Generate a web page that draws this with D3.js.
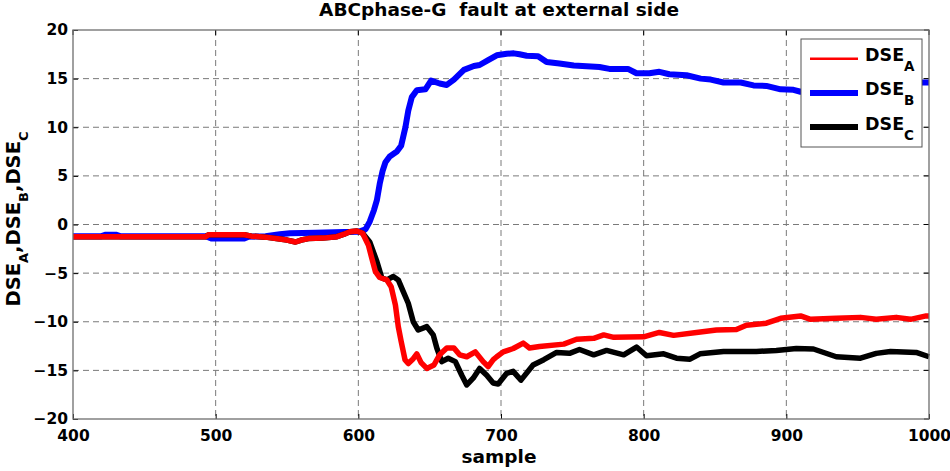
<!DOCTYPE html>
<html>
<head>
<meta charset="utf-8">
<script src="https://cdn.jsdelivr.net/npm/d3@7"></script>
<style>
    body { margin: 0; background: #fff; }
    text { font-family: "DejaVu Sans", Arial, sans-serif; font-weight: bold; }
</style>
</head>
<body>
<div id="chart"></div>
<script>
// values
var xTicks = [400, 500, 600, 700, 800, 900, 1000];
var yTicks = [-20, -15, -10, -5, 0, 5, 10, 15, 20];

var sampleA = [400, 493, 495, 520, 525, 535, 545, 550, 556, 560, 565, 575, 585, 590, 594, 599, 603, 607, 609.5, 612, 615, 620, 623, 626, 628, 630, 632.7, 635, 638.5, 641, 644, 648, 653, 657, 662, 667, 671, 676, 682, 687.5, 691, 694.6, 697, 701.6, 708.6, 715.6, 720, 727, 744, 753, 765, 772, 779, 800, 811, 821, 837, 851, 865, 872, 886, 896, 910, 917, 935, 952, 963, 977, 987, 998, 1000];
var dseA = [-1.25, -1.25, -1.05, -1.05, -1.2, -1.3, -1.5, -1.6, -1.8, -1.6, -1.45, -1.4, -1.25, -1.0, -0.75, -0.67, -0.9, -2.1, -3.5, -4.85, -5.45, -5.7, -6.4, -8.3, -10.5, -12.0, -13.9, -14.3, -13.8, -13.3, -14.2, -14.8, -14.45, -13.4, -12.7, -12.7, -13.4, -13.6, -13.1, -14.1, -14.6, -13.9, -13.6, -13.1, -12.75, -12.2, -12.7, -12.55, -12.3, -11.8, -11.7, -11.35, -11.6, -11.55, -11.1, -11.4, -11.1, -10.85, -10.8, -10.35, -10.15, -9.65, -9.4, -9.75, -9.65, -9.55, -9.75, -9.55, -9.75, -9.4, -9.4];

var sampleB = [400, 420, 423, 430, 433, 493, 497, 520, 523, 535, 545, 552, 570, 590, 600, 605, 608, 611, 613, 615, 617, 619, 622, 627, 630, 633, 635, 637.5, 641, 647, 651, 657, 662, 667, 674, 681, 685, 691, 697, 704, 709, 713, 718, 726, 732, 741, 751, 769, 776, 789, 795, 804, 811, 818, 830, 840, 847, 856, 868, 877, 886, 896, 905, 910, 930, 955, 975, 995, 1000];
var dseB = [-1.2, -1.2, -1.05, -1.05, -1.2, -1.2, -1.45, -1.45, -1.25, -1.2, -1.0, -0.9, -0.85, -0.78, -0.75, -0.5, 0.3, 1.5, 2.5, 4.2, 5.5, 6.4, 7.0, 7.5, 8.1, 10.0, 11.7, 13.1, 13.8, 13.9, 14.8, 14.5, 14.35, 14.9, 15.9, 16.3, 16.4, 16.9, 17.4, 17.55, 17.6, 17.5, 17.35, 17.3, 16.7, 16.55, 16.35, 16.2, 16.0, 16.0, 15.55, 15.55, 15.7, 15.45, 15.35, 15.0, 14.9, 14.6, 14.6, 14.3, 14.25, 13.9, 13.85, 13.65, 13.7, 14.0, 14.3, 14.6, 14.6];

var sampleC = [400, 493, 495, 520, 525, 535, 545, 550, 556, 560, 565, 575, 585, 590, 594, 599, 603, 608, 613, 616.5, 620, 624.5, 628, 631.5, 635, 638.5, 642, 648, 652.5, 655, 658.5, 663, 668, 672.5, 676, 680.5, 685, 690, 694.5, 698, 704, 708.5, 714, 722.5, 730, 739, 748, 755, 765, 774, 786, 795, 802, 814, 823, 832.5, 839.5, 856, 879, 893, 907, 919, 935, 952, 963, 973, 991, 1000];
var dseC = [-1.25, -1.25, -1.05, -1.05, -1.2, -1.3, -1.5, -1.6, -1.8, -1.6, -1.45, -1.4, -1.25, -1.0, -0.75, -0.67, -0.9, -1.8, -3.8, -5.5, -5.7, -5.35, -5.7, -6.9, -8.1, -10.0, -10.85, -10.5, -11.35, -12.7, -14.1, -13.75, -14.1, -15.5, -16.5, -15.8, -14.8, -15.5, -16.3, -16.4, -15.3, -15.1, -16.0, -14.45, -13.9, -13.15, -13.25, -12.85, -13.4, -12.95, -13.4, -12.6, -13.5, -13.3, -13.75, -13.85, -13.3, -13.05, -13.05, -12.95, -12.75, -12.8, -13.6, -13.75, -13.25, -13.05, -13.15, -13.6];

var seriesNames = ["A", "B", "C"];
var seriesColors = ["#ff0000", "#0000ff", "#000000"];

var margin = {top: 30, left: 73, right: 21, bottom: 52},
    width = 950 - margin.left - margin.right,
    height = 471 - margin.top - margin.bottom;

var svg = d3.select("#chart")
    .append("svg")
    .attr("width", 950)
    .attr("height", 471);

var g = svg.append("g")
    .attr("transform", "translate(" + margin.left + "," + margin.top + ")");

var x = d3.scaleLinear().domain([400, 1000]).range([0, width]);
var y = d3.scaleLinear().domain([-20, 20]).range([height, 0]);

// grid
g.append("g")
    .selectAll("line")
    .data(xTicks.slice(1, -1))
    .enter().append("line")
    .attr("x1", d => x(d)).attr("x2", d => x(d))
    .attr("y1", 0).attr("y2", height)
    .attr("stroke", "#7a7a7a")
    .attr("stroke-dasharray", "6,4");
g.append("g")
    .selectAll("line")
    .data(yTicks.slice(1, -1))
    .enter().append("line")
    .attr("x1", 0).attr("x2", width)
    .attr("y1", d => y(d)).attr("y2", d => y(d))
    .attr("stroke", "#7a7a7a")
    .attr("stroke-dasharray", "6,4");

// axes
var xAxis = g.append("g")
    .attr("transform", "translate(0," + height + ")")
    .call(d3.axisBottom(x).tickValues(xTicks).tickFormat(d3.format("d")).tickSize(-5).tickPadding(10));
var yAxis = g.append("g")
    .call(d3.axisLeft(y).tickValues(yTicks).tickFormat(d3.format("d")).tickSize(-5).tickPadding(5));
[xAxis, yAxis].forEach(a => {
    a.select(".domain").remove();
    a.selectAll("text").attr("fill", "#000").style("font-size", "15.5px").style("font-family", "'DejaVu Sans', Arial, sans-serif");
    a.selectAll("line").attr("stroke", "#000");
});
xAxis.selectAll("text").attr("dy", "0.8em");

// top / right ticks
g.append("g").selectAll("line").data(xTicks).enter().append("line")
    .attr("x1", d => x(d)).attr("x2", d => x(d)).attr("y1", 0).attr("y2", 5)
    .attr("stroke", "#000");
g.append("g").selectAll("line").data(yTicks).enter().append("line")
    .attr("x1", width - 5).attr("x2", width).attr("y1", d => y(d)).attr("y2", d => y(d))
    .attr("stroke", "#000");

// lines
var line = d3.line().x(d => x(d[0])).y(d => y(d[1]));
var drawData = [
    {data: d3.zip(sampleB, dseB), color: seriesColors[1], w: 6},
    {data: d3.zip(sampleC, dseC), color: seriesColors[2], w: 5.5},
    {data: d3.zip(sampleA, dseA), color: seriesColors[0], w: 5.5}
];
g.selectAll(".series")
    .data(drawData)
    .enter().append("path")
    .attr("class", "series")
    .attr("d", d => line(d.data))
    .attr("fill", "none")
    .attr("stroke", d => d.color)
    .attr("stroke-width", d => d.w)
    .attr("stroke-linejoin", "round");

// frame
g.append("rect")
    .attr("width", width).attr("height", height)
    .attr("fill", "none").attr("stroke", "#6e6e6e").attr("stroke-width", 1.3);

// legend
var legend = svg.append("g").attr("transform", "translate(801,39)");
legend.append("rect")
    .attr("width", 121).attr("height", 108)
    .attr("fill", "#fff").attr("stroke", "#555").attr("stroke-width", 1);
var item = legend.selectAll(".item")
    .data(seriesNames)
    .enter().append("g")
    .attr("transform", (d, i) => "translate(0," + (19.7 + i * 34.2) + ")");
item.append("line")
    .attr("x1", 9).attr("x2", 57)
    .attr("stroke", (d, i) => seriesColors[i])
    .attr("stroke-width", (d, i) => i === 0 ? 2.5 : 6);
var lt = item.append("text")
    .attr("x", 64).attr("y", 2.5)
    .style("font-size", "17.5px");
lt.append("tspan").text("DSE");
lt.append("tspan").attr("dy", 10).style("font-size", "13.5px").text(d => d);

// title and axis labels
svg.append("text")
    .attr("x", 499).attr("y", 16)
    .attr("text-anchor", "middle")
    .style("font-size", "18.5px")
    .style("white-space", "pre")
    .text("ABCphase-G\u00a0 fault at external side");

svg.append("text")
    .attr("x", 499).attr("y", 463)
    .attr("text-anchor", "middle")
    .style("font-size", "18.5px")
    .text("sample");

var yl = svg.append("text")
    .attr("transform", "translate(19.5,219) rotate(-90)")
    .attr("text-anchor", "middle")
    .style("font-size", "19.5px");
seriesNames.forEach((n, i) => {
    yl.append("tspan").attr("dy", i === 0 ? 0 : -8).text((i === 0 ? "" : ",") + "DSE");
    yl.append("tspan").attr("dy", 8).style("font-size", "13px").text(n);
});
</script>
</body>
</html>
